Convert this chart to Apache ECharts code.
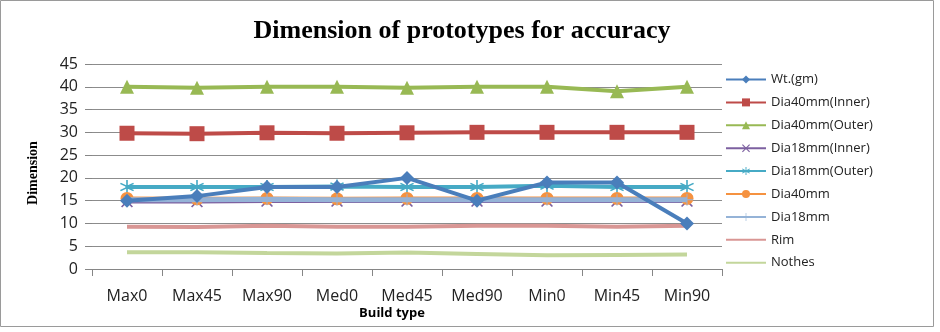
<!DOCTYPE html>
<html><head><meta charset="utf-8">
<script src="https://cdn.jsdelivr.net/npm/echarts@6/dist/echarts.min.js"></script>
<style>html,body{margin:0;padding:0;background:#fff}#c{width:940px;height:332px}</style>
</head><body><div id="c"></div>
<script>
const categories = ['Max0','Max45','Max90','Med0','Med45','Med90','Min0','Min45','Min90'];
const seriesNames = ['Wt.(gm)','Dia40mm(Inner)','Dia40mm(Outer)','Dia18mm(Inner)','Dia18mm(Outer)','Dia40mm','Dia18mm','Rim','Nothes'];
const wt         = [15, 16, 18, 18, 20, 15, 19, 19, 10];
const dia40Inner = [29.8, 29.7, 29.9, 29.8, 29.9, 30, 30, 30, 30];
const dia40Outer = [40, 39.8, 40, 40, 39.8, 40, 40, 39, 40];
const dia18Inner = [14.8, 14.8, 14.9, 14.9, 14.9, 14.9, 14.9, 14.9, 14.9];
const dia18Outer = [18, 18, 18, 18.1, 18, 18, 18.3, 18, 18];
const dia40      = [15.5, 15.4, 15.5, 15.4, 15.5, 15.5, 15.5, 15.5, 15.5];
const dia18      = [15.2, 15.2, 15.3, 15.2, 15.2, 15.2, 15.2, 15.2, 15.2];
const rim        = [9.3, 9.2, 9.5, 9.3, 9.3, 9.5, 9.5, 9.3, 9.5];
const nothes     = [3.7, 3.7, 3.5, 3.4, 3.6, 3.3, 3.0, 3.1, 3.2];
const yTicks = [0,5,10,15,20,25,30,35,40,45];

const dataSets = [wt, dia40Inner, dia40Outer, dia18Inner, dia18Outer, dia40, dia18, rim, nothes];
const colors = ['#4A7EBB','#BE4B48','#98B954','#7D60A0','#46AAC5','#F59240','#95B3D7','#D99694','#C3D69B'];
const xPath = 'path://M0,1 L1,0 L5,4 L9,0 L10,1 L6,5 L10,9 L9,10 L5,6 L1,10 L0,9 L4,5 Z';
const starPath = 'path://M4.5,0 L5.5,0 L5.5,3.8 L8.8,1.9 L9.3,2.8 L6,4.7 L6,5.3 L9.3,7.2 L8.8,8.1 L5.5,6.2 L5.5,10 L4.5,10 L4.5,6.2 L1.2,8.1 L0.7,7.2 L4,5.3 L4,4.7 L0.7,2.8 L1.2,1.9 L4.5,3.8 Z';
const plusPath = 'path://M4.6,0 L5.4,0 L5.4,4.6 L10,4.6 L10,5.4 L5.4,5.4 L5.4,10 L4.6,10 L4.6,5.4 L0,5.4 L0,4.6 L4.6,4.6 Z';
const symbols = ['diamond','rect','triangle',xPath,starPath,'circle',plusPath,'circle','circle'];
const sizes = [14,15,14,12,14,13,12,0,0];
const hasMarker = [true,true,true,true,true,true,true,false,false];

const chart = echarts.init(document.getElementById('c'), null, {renderer:'canvas'});
chart.setOption({
  animation:false,
  backgroundColor:'#fff',
  title:{text:'Dimension of prototypes for accuracy', left:457, top:13, textAlign:'center',
    textStyle:{fontFamily:'Liberation Serif', fontWeight:'bold', fontSize:26, color:'#000'}},
  grid:{left:92, right:218, top:64, bottom:63, containLabel:false},
  xAxis:{type:'category', data:categories, boundaryGap:true,
    axisLine:{lineStyle:{color:'#868686', width:1}},
    axisTick:{show:true, length:7, interval:0, lineStyle:{color:'#868686'}},
    axisLabel:{interval:0, fontFamily:'Open Sans', fontSize:16, color:'#222', margin:19}},
  yAxis:{type:'value', min:0, max:45, interval:5,
    axisLine:{show:false},
    axisTick:{show:true, length:7, lineStyle:{color:'#868686'}},
    axisLabel:{fontFamily:'Open Sans', fontSize:16, color:'#222', margin:14},
    splitLine:{lineStyle:{color:'#8c8c8c', width:1}}},
  legend:{orient:'vertical', left:720, top:68, itemWidth:40, itemHeight:10, itemGap:9.9,
    data:seriesNames,
    textStyle:{fontFamily:'Open Sans', fontSize:13, color:'#222'}},
  graphic:[
    {type:'rect', shape:{x:0.5, y:0.5, width:933, height:326}, style:{fill:'none', stroke:'#9a9a9a', lineWidth:1}, silent:true},
    {type:'text', x:33, y:173, rotation:Math.PI/2, style:{text:'Dimension', font:'bold 14px "Liberation Serif"', fill:'#000', textAlign:'center', textVerticalAlign:'middle'}},
    {type:'text', x:392, y:313, style:{text:'Build type', font:'bold 13px "Open Sans"', fill:'#000', textAlign:'center', textVerticalAlign:'middle'}}
  ],
  series: seriesNames.map((n,i)=>({
    name:n, type:'line', data:dataSets[i],
    symbol:symbols[i], symbolSize:sizes[i], showSymbol:hasMarker[i],
    lineStyle:{color:colors[i], width:(i===6?5:4)},
    itemStyle: hasMarker[i] ? {color:colors[i]} : {color:colors[i], opacity:0},
    z: [9,3,3,4,5,6,7,2,2][i]
  }))
});
</script></body></html>
